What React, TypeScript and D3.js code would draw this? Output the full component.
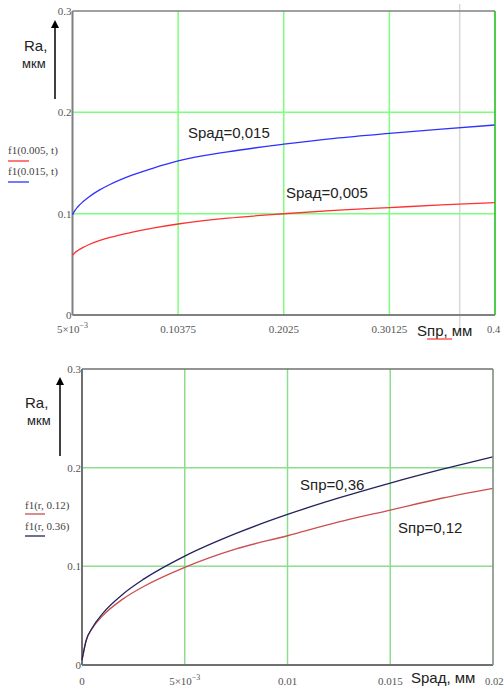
import React from 'react';
import * as d3 from 'd3';

// top chart: Ra vs Sпр for two Sрад values
const topX = [0.005, 0.0075, 0.01, 0.015, 0.02, 0.03, 0.04, 0.06, 0.08, 0.10375, 0.15, 0.2025, 0.25, 0.30125, 0.35, 0.4];
const topRed = [0.059, 0.0617, 0.0637, 0.0668, 0.0693, 0.0733, 0.0765, 0.0815, 0.0857, 0.0898, 0.0955, 0.0999, 0.1032, 0.106, 0.1086, 0.1108];
const topBlue = [0.099, 0.1035, 0.1068, 0.112, 0.1163, 0.1232, 0.1288, 0.1378, 0.1448, 0.152, 0.161, 0.1686, 0.1744, 0.1793, 0.1835, 0.1875];
const topXTicks = [0.005, 0.10375, 0.2025, 0.30125, 0.4];
const topXLabels = ['5×10', '0.10375', '0.2025', '0.30125', '0.4'];
const topMarker = 0.367;

// bottom chart: Ra vs Sрад for two Sпр values
const botX = [0, 0.0002, 0.0005, 0.001, 0.002, 0.003, 0.005, 0.0075, 0.01, 0.0125, 0.015, 0.0175, 0.02];
const botRed = [0.005, 0.025, 0.037, 0.0498, 0.067, 0.0796, 0.099, 0.1177, 0.131, 0.145, 0.157, 0.169, 0.179];
const botNavy = [0.005, 0.0246, 0.0377, 0.0521, 0.072, 0.087, 0.1104, 0.1334, 0.1526, 0.1693, 0.1844, 0.1982, 0.211];
const botXTicks = [0, 0.005, 0.01, 0.015, 0.02];
const botXLabels = ['0', '5×10', '0.01', '0.015', '0.02'];

const yTicks = [0, 0.1, 0.2, 0.3];
const yLabels = ['0', '0.1', '0.2', '0.3'];

const serif = '"Liberation Serif", "DejaVu Serif", serif';
const sans = '"Liberation Sans", Arial, sans-serif';

type PanelProps = {
  x: d3.ScaleLinear<number, number>;
  y: d3.ScaleLinear<number, number>;
  xs: number[];
  series: { values: number[]; color: string }[];
  xTicks: number[];
  xLabels: string[];
  xLabelY: number;
  gridColor: string;
  frameColor: string;
};

const Panel = ({ x, y, xs, series, xTicks, xLabels, xLabelY, gridColor, frameColor }: PanelProps) => {
  const [x0, x1] = x.range();
  const [y0, y1] = y.range();
  const last = xTicks.length - 1;
  return (
    <g>
      {/* grid */}
      {xTicks.slice(1).map(t => (
        <line key={'gx' + t} x1={x(t)} x2={x(t)} y1={y1} y2={y0} stroke={gridColor} strokeWidth={1.5} />
      ))}
      {yTicks.slice(1, 3).map(t => (
        <line key={'gy' + t} x1={x0} x2={x1} y1={y(t)} y2={y(t)} stroke={gridColor} strokeWidth={1.5} />
      ))}
      {/* frame */}
      <line x1={x0} x2={x0} y1={y1} y2={y0} stroke={frameColor} strokeWidth={2} />
      <line x1={x0} x2={x1} y1={y0} y2={y0} stroke={frameColor} strokeWidth={2} />
      <line x1={x0} x2={x1} y1={y1} y2={y1} stroke={frameColor} strokeWidth={1.5} />
      {/* curves */}
      {series.map((s, i) => {
        const line = d3.line<number>()
          .x((_, j) => x(xs[j]))
          .y(d => y(d))
          .curve(d3.curveMonotoneX);
        return <path key={i} d={line(s.values) || ''} fill="none" stroke={s.color} strokeWidth={1.3} />;
      })}
      {/* y tick labels */}
      {yTicks.map((t, i) => (
        <text key={'yl' + t} x={x0 - 1} y={y(t) + 4} textAnchor="end" fontFamily={serif} fontSize={11} fill="#555">
          {yLabels[i]}
        </text>
      ))}
      {/* x tick labels */}
      {xTicks.map((t, i) => (
        <text key={'xl' + t} x={x(t)} y={xLabelY} textAnchor={i === last ? 'start' : 'middle'}
          dx={i === last ? -8 : 0}
          fontFamily={serif} fontSize={i === last ? 10.5 : 11} fill="#555">
          {xLabels[i]}
          {xLabels[i] === '5×10' && <tspan dy={-5} fontSize={8}>−3</tspan>}
        </text>
      ))}
    </g>
  );
};

const Arrow = ({ cx, top, bottom }: { cx: number; top: number; bottom: number }) => (
  <g>
    <line x1={cx} x2={cx} y1={top + 6} y2={bottom} stroke="#000" strokeWidth={1.5} />
    <path d={`M${cx - 4},${top + 8} L${cx},${top} L${cx + 4},${top + 8} Z`} fill="#000" />
  </g>
);

const App = () => {
  const tx = d3.scaleLinear().domain([0.005, 0.4]).range([72.5, 495]);
  const ty = d3.scaleLinear().domain([0, 0.3]).range([315, 11]);
  const bx = d3.scaleLinear().domain([0, 0.02]).range([82, 493]);
  const by = d3.scaleLinear().domain([0, 0.3]).range([665, 369]);

  return (
    <div style={{ position: 'absolute', left: 0, top: 0 }}>
      <svg width={504} height={691} style={{ display: 'block', background: '#fff' }}>
        {/* ---------- top chart ---------- */}
        <line x1={tx(topMarker)} x2={tx(topMarker)} y1={4} y2={332} stroke="#d8d8d8" strokeWidth={1.5} />
        <Panel x={tx} y={ty} xs={topX}
          series={[{ values: topRed, color: '#ff3030' }, { values: topBlue, color: '#3030ff' }]}
          xTicks={topXTicks} xLabels={topXLabels} xLabelY={333}
          gridColor="#7dff7d" frameColor="#808080" />
        <line x1={tx(0.4)} x2={tx(0.4)} y1={ty(0.3)} y2={ty(0)} stroke="#33bb33" strokeWidth={1.5} />
        <Arrow cx={55} top={20} bottom={99} />
        <text x={24} y={51} fontFamily={sans} fontSize={15} fill="#222">Ra,</text>
        <text x={22} y={68} fontFamily={sans} fontSize={13} fill="#222">мкм</text>
        <text x={8} y={154} fontFamily={serif} fontSize={11} fill="#444">f1(0.005, t)</text>
        <line x1={8} x2={29} y1={161} y2={161} stroke="#ff3030" strokeWidth={1.3} />
        <text x={8} y={175} fontFamily={serif} fontSize={11} fill="#444">f1(0.015, t)</text>
        <line x1={8} x2={29} y1={182} y2={182} stroke="#3030ff" strokeWidth={1.3} />
        <text x={188} y={138} fontFamily={sans} fontSize={15} fill="#222">Sрад=0,015</text>
        <text x={286} y={198} fontFamily={sans} fontSize={15} fill="#222">Sрад=0,005</text>
        <text x={417} y={336} fontFamily={sans} fontSize={15} fill="#222">Sпр, мм</text>
        <path d="M427,339 L452,339" stroke="#ff3030" strokeWidth={1.2} />

        {/* ---------- bottom chart ---------- */}
        <Panel x={bx} y={by} xs={botX}
          series={[{ values: botRed, color: '#c85050' }, { values: botNavy, color: '#22225e' }]}
          xTicks={botXTicks} xLabels={botXLabels} xLabelY={685}
          gridColor="#8fdc8f" frameColor="#707070" />
        <line x1={bx(0.02)} x2={bx(0.02)} y1={by(0.3)} y2={by(0)} stroke="#909090" strokeWidth={1.5} />
        <Arrow cx={60} top={377} bottom={456} />
        <text x={25} y={408} fontFamily={sans} fontSize={15} fill="#222">Ra,</text>
        <text x={27} y={425} fontFamily={sans} fontSize={13} fill="#222">мкм</text>
        <text x={25} y={509} fontFamily={serif} fontSize={11} fill="#444">f1(r, 0.12)</text>
        <line x1={25} x2={45} y1={514} y2={514} stroke="#c85050" strokeWidth={1.3} />
        <text x={25} y={530} fontFamily={serif} fontSize={11} fill="#444">f1(r, 0.36)</text>
        <line x1={25} x2={45} y1={536} y2={536} stroke="#22225e" strokeWidth={1.3} />
        <text x={300} y={490} fontFamily={sans} fontSize={15} fill="#222">Sпр=0,36</text>
        <text x={398} y={533} fontFamily={sans} fontSize={15} fill="#222">Sпр=0,12</text>
        <text x={411} y={683} fontFamily={sans} fontSize={15} fill="#222">Sрад, мм</text>
      </svg>
    </div>
  );
};

export default App;
